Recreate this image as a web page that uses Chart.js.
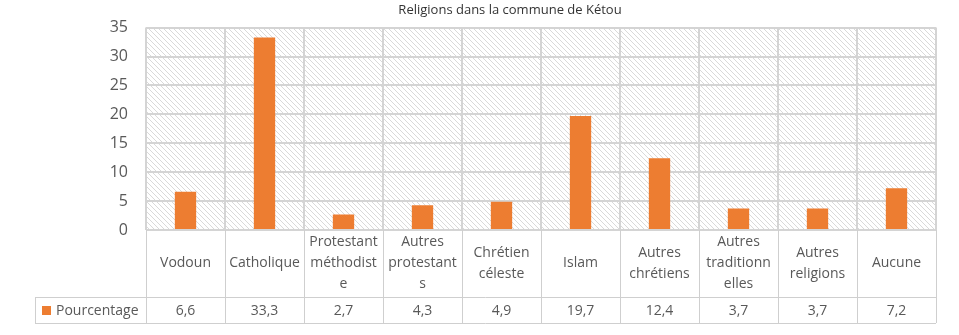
<!DOCTYPE html>
<html>
<head>
<meta charset="utf-8">
<script src="https://cdn.jsdelivr.net/npm/chart.js@4"></script>
<style>
  html, body { margin: 0; padding: 0; background: #fff; }
  #wrap { width: 959px; height: 335px; }
</style>
</head>
<body>
<div id="wrap"><canvas id="graf"></canvas></div>
<script>
// donnees du graphique
var titre = "Religions dans la commune de Kétou";
var religions = [
    ["Vodoun"], ["Catholique"], ["Protestant", "méthodist", "e"], ["Autres", "protestant", "s"],
    ["Chrétien", "céleste"], ["Islam"], ["Autres", "chrétiens"], ["Autres", "traditionn", "elles"],
    ["Autres", "religions"], ["Aucune"]
];
var pourcentage = [6.6, 33.3, 2.7, 4.3, 4.9, 19.7, 12.4, 3.7, 3.7, 7.2];
var nomSerie = "Pourcentage";

var orange = "#ED7D31";
var gris = "#595959";
var police = "'Open Sans', sans-serif";

// motif hachure du fond
var motif = document.createElement("canvas");
motif.width = 5; motif.height = 5;
var mctx = motif.getContext("2d");
mctx.fillStyle = "#fff";
mctx.fillRect(0, 0, 5, 5);
mctx.fillStyle = "#d9d9d9";
for (let i = 0; i < 5; i++) mctx.fillRect(i, i, 1, 1);

const fondHachure = {
    id: "fondHachure",
    beforeDraw: function(chart) {
        const a = chart.chartArea, ctx = chart.ctx;
        ctx.save();
        ctx.fillStyle = ctx.createPattern(motif, "repeat");
        ctx.fillRect(a.left, a.top, a.right - a.left, a.bottom - a.top);
        ctx.restore();
    }
};

// titre + tableau de donnees sous le graphique
const tableau = {
    id: "tableau",
    afterDraw: function(chart) {
        const ctx = chart.ctx, a = chart.chartArea, xs = chart.scales.x;
        const demi = (xs.getPixelForValue(1) - xs.getPixelForValue(0)) / 2;
        const yLignes = 297, yBas = 323, xLeg = 35;
        ctx.save();
        // titre
        ctx.fillStyle = "#333333";
        ctx.font = "13px " + police;
        ctx.textAlign = "center";
        ctx.textBaseline = "middle";
        ctx.fillText(titre, 510, 10);

        // bordures
        ctx.strokeStyle = "#cfcfcf";
        ctx.lineWidth = 1;
        ctx.beginPath();
        for (let i = 0; i <= religions.length; i++) {
            const bx = Math.round(xs.getPixelForValue(i) - demi) + 0.5;
            ctx.moveTo(bx, a.bottom); ctx.lineTo(bx, yBas);
        }
        ctx.moveTo(xLeg + 0.5, yLignes); ctx.lineTo(xLeg + 0.5, yBas);
        ctx.moveTo(xLeg, yLignes + 0.5); ctx.lineTo(a.right, yLignes + 0.5);
        ctx.moveTo(xLeg, yBas + 0.5); ctx.lineTo(a.right, yBas + 0.5);
        ctx.stroke();

        // libelles et valeurs
        ctx.fillStyle = gris;
        ctx.font = "14px " + police;
        const lh = 21, centre = (a.bottom + yLignes) / 2;
        for (let i = 0; i < religions.length; i++) {
            const cx = xs.getPixelForValue(i);
            const lignes = religions[i];
            const y0 = centre - (lignes.length - 1) * lh / 2;
            lignes.forEach(function(t, k) { ctx.fillText(t, cx, y0 + k * lh); });
            ctx.fillText(String(pourcentage[i]).replace(".", ","), cx, (yLignes + yBas) / 2 + 1);
        }
        // legende
        ctx.fillStyle = orange;
        ctx.fillRect(42, 306, 9, 9);
        ctx.fillStyle = gris;
        ctx.textAlign = "left";
        ctx.fillText(nomSerie, 56, (yLignes + yBas) / 2 + 1);
        ctx.restore();
    }
};

const config = {
    type: "bar",
    data: {
        labels: religions,
        datasets: [{
            label: nomSerie,
            data: pourcentage,
            backgroundColor: orange,
            categoryPercentage: 1,
            barPercentage: 0.27
        }]
    },
    options: {
        responsive: true,
        maintainAspectRatio: false,
        animation: false,
        layout: { padding: { top: 23, right: 23, bottom: 0, left: 0 } },
        plugins: {
            legend: { display: false },
            title: { display: false },
            tooltip: { enabled: false }
        },
        scales: {
            x: {
                ticks: { display: false },
                grid: { color: "#d4d4d4", lineWidth: 2, drawTicks: false },
                border: { display: false },
                afterFit: function(s) { s.height = 105; }
            },
            y: {
                min: 0, max: 35,
                ticks: { stepSize: 5, color: gris, font: { family: police, size: 16 }, padding: 18 },
                grid: { color: "#d4d4d4", lineWidth: 2, drawTicks: false },
                border: { display: false },
                afterFit: function(s) { s.width = 146; }
            }
        }
    },
    plugins: [fondHachure, tableau]
};

var graf = new Chart(document.getElementById("graf"), config);
</script>
</body>
</html>
